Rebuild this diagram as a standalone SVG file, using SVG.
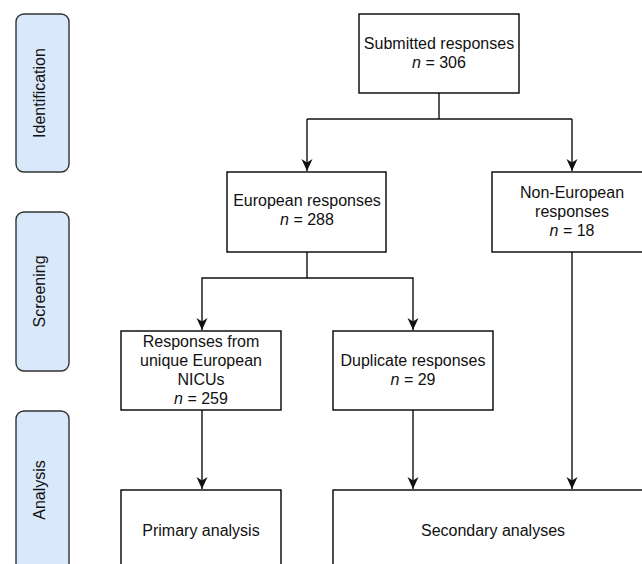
<svg xmlns="http://www.w3.org/2000/svg" width="642" height="564" viewBox="0 0 642 564">
<defs>
<style>
.box{fill:#ffffff;stroke:#000000;stroke-width:1.4}
.side{fill:#dae8fc;stroke:#333333;stroke-width:1.4}
.t{font-family:"Liberation Sans",Arial,sans-serif;font-size:16px;fill:#111111;text-anchor:middle}
.con{fill:none;stroke:#111111;stroke-width:1.4}
</style>
<marker id="arr" markerWidth="14" markerHeight="14" viewBox="0 0 14 14" refX="12" refY="7" orient="auto" markerUnits="userSpaceOnUse">
<path d="M0,1.5 L12,7 L0,12.5 L3.5,7 z" fill="#111111"/>
</marker>
</defs>
<rect width="642" height="564" fill="#ffffff"/>
<g id="lbl-identification"><rect class="side" x="16" y="14" width="53" height="158" rx="8"/><text class="t" transform="translate(44.5,93) rotate(-90)">Identification</text></g>
<g id="lbl-screening"><rect class="side" x="16" y="212" width="53" height="159" rx="8"/><text class="t" transform="translate(44.5,291.5) rotate(-90)">Screening</text></g>
<g id="lbl-analysis"><rect class="side" x="16" y="411" width="53" height="170" rx="8"/><text class="t" transform="translate(44.5,490) rotate(-90)">Analysis</text></g>
<g id="connectors">
<path class="con" d="M439,93 V119"/>
<path class="con" d="M307,119 H572"/>
<path class="con" d="M307,119 V171" marker-end="url(#arr)"/>
<path class="con" d="M572,119 V171" marker-end="url(#arr)"/>
<path class="con" d="M307,252 V278 H202 V330" marker-end="url(#arr)"/>
<path class="con" d="M307,278 H413 V330" marker-end="url(#arr)"/>
<path class="con" d="M202,410 V489" marker-end="url(#arr)"/>
<path class="con" d="M413,410 V489" marker-end="url(#arr)"/>
<path class="con" d="M572,252 V489" marker-end="url(#arr)"/>
</g>
<g id="submitted"><rect class="box" x="359" y="14" width="160" height="79"/><text class="t" x="439" y="49">Submitted responses</text><text class="t" x="439" y="68"><tspan font-style="italic">n</tspan> = 306</text></g>
<g id="european"><rect class="box" x="227" y="172" width="159" height="80"/><text class="t" x="307" y="206">European responses</text><text class="t" x="307" y="225"><tspan font-style="italic">n</tspan> = 288</text></g>
<g id="noneuropean"><rect class="box" x="492" y="172" width="160" height="80"/><text class="t" x="572" y="198">Non-European</text><text class="t" x="572" y="217">responses</text><text class="t" x="572" y="236"><tspan font-style="italic">n</tspan> = 18</text></g>
<g id="unique"><rect class="box" x="121" y="331" width="160" height="79"/><text class="t" x="201" y="347">Responses from</text><text class="t" x="201" y="366">unique European</text><text class="t" x="201" y="385">NICUs</text><text class="t" x="201" y="404"><tspan font-style="italic">n</tspan> = 259</text></g>
<g id="duplicate"><rect class="box" x="333" y="331" width="160" height="79"/><text class="t" x="413" y="366">Duplicate responses</text><text class="t" x="413" y="385"><tspan font-style="italic">n</tspan> = 29</text></g>
<g id="primary"><rect class="box" x="121" y="490" width="160" height="90"/><text class="t" x="201" y="536">Primary analysis</text></g>
<g id="secondary"><rect class="box" x="333" y="490" width="320" height="90"/><text class="t" x="493" y="536">Secondary analyses</text></g>
</svg>
